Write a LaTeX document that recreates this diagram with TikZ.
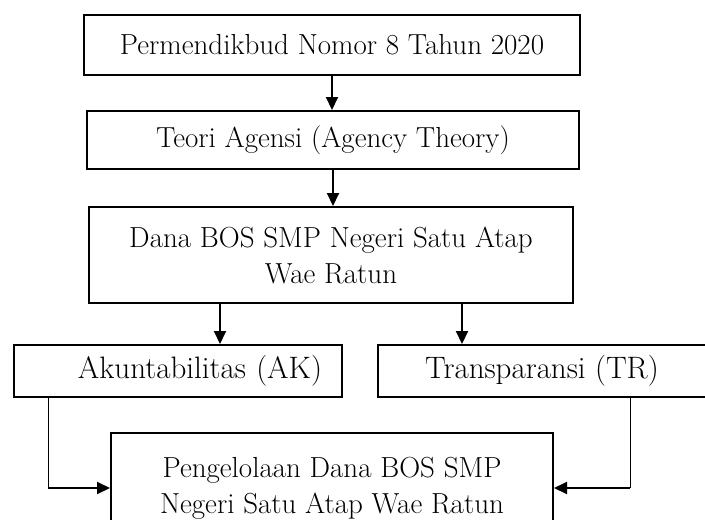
\documentclass[tikz,border=0pt]{standalone}
\usetikzlibrary{arrows.meta}

\tikzset{
  boxnode/.style={draw,rectangle,line width=2pt,inner sep=0pt,align=center,
    font=\fontsize{29}{36}\selectfont},
  flowarrow/.style={draw,line width=2pt,-{Triangle[length=13pt,width=12pt]}}
}

\begin{document}
\begin{tikzpicture}[x=1pt,y=1pt]

        \clip (0,0) rectangle (705,-520);

        \begin{scope}[every node/.style={boxnode}]
          \node[minimum width=496pt,minimum height=60pt] (perm)  at (332,-45)  {Permendikbud Nomor 8 Tahun 2020};
          \node[minimum width=492pt,minimum height=58pt] (teori) at (333,-140) {Teori Agensi (Agency Theory)};
          \node[minimum width=484pt,minimum height=96pt] (dana)  at (331,-255) {Dana BOS SMP Negeri Satu Atap\\Wae Ratun};
          \node[minimum width=328pt,minimum height=52pt,text width=288pt,align=right,
                font=\fontsize{31}{36}\selectfont] (ak) at (178,-371) {Akuntabilitas (AK)};
          \node[minimum width=328pt,minimum height=52pt,
                font=\fontsize{31}{36}\selectfont] (tr) at (542,-371) {Transparansi (TR)};
          \node[minimum width=442pt,minimum height=110pt] (peng) at (332,-488) {Pengelolaan Dana BOS SMP\\Negeri Satu Atap Wae Ratun};
        \end{scope}

        \coordinate (aktop) at ([xshift=35pt]ak.south west);
        \coordinate (trtop) at ([xshift=-77pt]tr.south east);

        \begin{scope}[every edge/.style={flowarrow}]
          \path (perm.south) edge (perm.south |- teori.north);
          \path (teori.south) edge (teori.south |- dana.north);
          \path ([xshift=-111pt]dana.south) edge ([xshift=-111pt]dana.south |- ak.north);
          \path ([xshift=131pt]dana.south) edge ([xshift=131pt]dana.south |- tr.north);
        \end{scope}

        \draw[line width=1pt] (aktop) -- (aktop |- peng.west) coordinate (akturn);
        \draw[line width=1pt] (trtop) -- (trtop |- peng.east) coordinate (trturn);
        \path (akturn) edge[flowarrow] (peng.west);
        \path (trturn) edge[flowarrow] (peng.east);

      \end{tikzpicture}
\end{document}
